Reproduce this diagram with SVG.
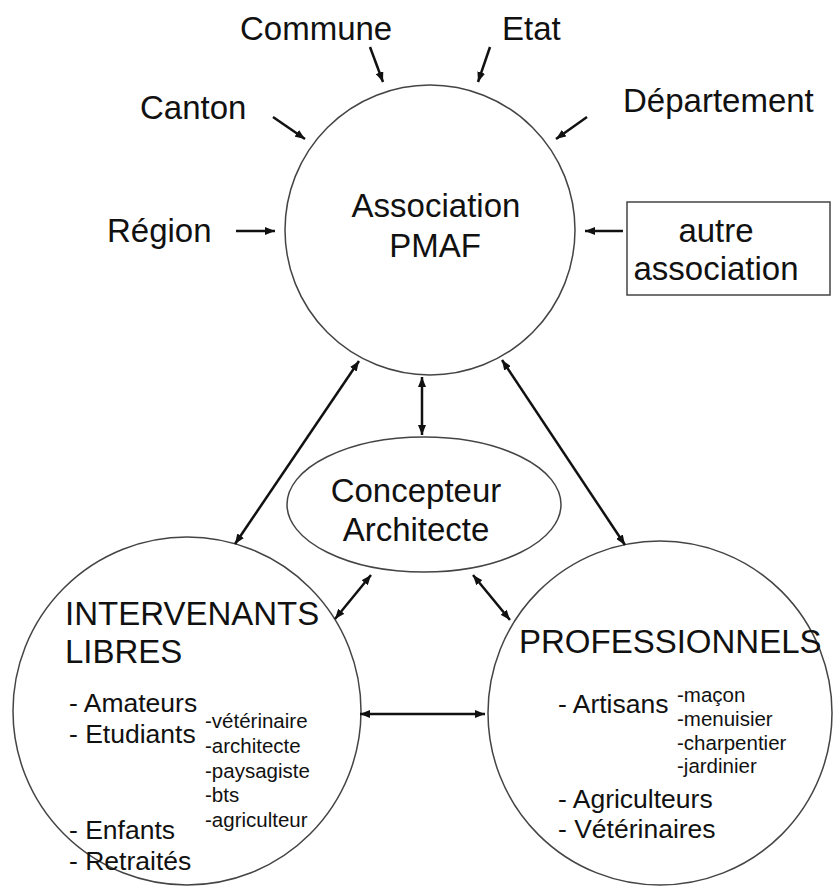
<svg xmlns="http://www.w3.org/2000/svg" width="838" height="887" viewBox="0 0 838 887">
<defs>
<marker id="ah" viewBox="0 0 10 8" refX="10" refY="4" markerWidth="10" markerHeight="8" markerUnits="userSpaceOnUse" orient="auto-start-reverse">
<path d="M0,0 L10,4 L0,8 Z" fill="#111"/>
</marker>
</defs>
<style>
text{font-family:"Liberation Sans",Arial,sans-serif;fill:#111}
.big{font-size:33px}
.mid{font-size:26.5px}
.sm{font-size:20.5px}
.shape{fill:#fff;stroke:#444;stroke-width:1.5}
.con line{stroke:#111;stroke-width:2.5}
</style>
<rect width="838" height="887" fill="#fff"/>
<g id="pmaf">
<circle class="shape" cx="430" cy="230" r="145"/>
<text class="big" x="436" y="217" text-anchor="middle">Association</text>
<text class="big" x="435" y="257" text-anchor="middle">PMAF</text>
</g>
<g id="commune"><text class="big" x="240" y="40">Commune</text></g>
<g id="etat"><text class="big" x="502" y="40">Etat</text></g>
<g id="canton"><text class="big" x="140" y="119">Canton</text></g>
<g id="departement"><text class="big" x="623" y="112">Département</text></g>
<g id="region"><text class="big" x="107" y="242">Région</text></g>
<g id="autre">
<rect class="shape" x="627" y="202" width="203" height="93"/>
<text class="big" x="716" y="242" text-anchor="middle">autre</text>
<text class="big" x="716" y="280" text-anchor="middle">association</text>
</g>
<g id="concepteur">
<ellipse class="shape" cx="424" cy="504.5" rx="137" ry="67.5"/>
<text class="big" x="416" y="502" text-anchor="middle">Concepteur</text>
<text class="big" x="416" y="541" text-anchor="middle">Architecte</text>
</g>
<g id="intervenants">
<circle class="shape" cx="187" cy="711" r="174" fill="none" style="fill:none"/>
<text class="big" x="65" y="625">INTERVENANTS</text>
<text class="big" x="65" y="663">LIBRES</text>
<text class="mid" x="69" y="712">- Amateurs</text>
<text class="mid" x="69" y="743">- Etudiants</text>
<text class="mid" x="69" y="839">- Enfants</text>
<text class="mid" x="69" y="870">- Retraités</text>
<text class="sm" x="205" y="728">-vétérinaire</text>
<text class="sm" x="205" y="753">-architecte</text>
<text class="sm" x="205" y="778">-paysagiste</text>
<text class="sm" x="205" y="802">-bts</text>
<text class="sm" x="205" y="827">-agriculteur</text>
</g>
<g id="professionnels">
<circle class="shape" cx="660" cy="713" r="172" style="fill:none"/>
<text class="big" x="519" y="653">PROFESSIONNELS</text>
<text class="mid" x="558" y="713">- Artisans</text>
<text class="sm" x="677" y="702">-maçon</text>
<text class="sm" x="677" y="726">-menuisier</text>
<text class="sm" x="677" y="750">-charpentier</text>
<text class="sm" x="677" y="773">-jardinier</text>
<text class="mid" x="558" y="808">- Agriculteurs</text>
<text class="mid" x="558" y="838">- Vétérinaires</text>
</g>
<g id="connectors" class="con">
<line x1="370" y1="47" x2="383" y2="82" marker-end="url(#ah)"/>
<line x1="490" y1="47" x2="478" y2="82" marker-end="url(#ah)"/>
<line x1="273" y1="117" x2="305" y2="139" marker-end="url(#ah)"/>
<line x1="587" y1="117" x2="556" y2="139" marker-end="url(#ah)"/>
<line x1="236" y1="231" x2="275" y2="231" marker-end="url(#ah)"/>
<line x1="623" y1="231" x2="585" y2="231" marker-end="url(#ah)"/>
<line x1="422" y1="377" x2="422" y2="435" marker-start="url(#ah)" marker-end="url(#ah)"/>
<line x1="359" y1="361" x2="235" y2="544" marker-start="url(#ah)" marker-end="url(#ah)"/>
<line x1="502" y1="360" x2="625" y2="545" marker-start="url(#ah)" marker-end="url(#ah)"/>
<line x1="371" y1="575" x2="335" y2="619" marker-start="url(#ah)" marker-end="url(#ah)"/>
<line x1="473" y1="575" x2="510" y2="620" marker-start="url(#ah)" marker-end="url(#ah)"/>
<line x1="360" y1="714" x2="485" y2="714" marker-start="url(#ah)" marker-end="url(#ah)"/>
</g>
</svg>
